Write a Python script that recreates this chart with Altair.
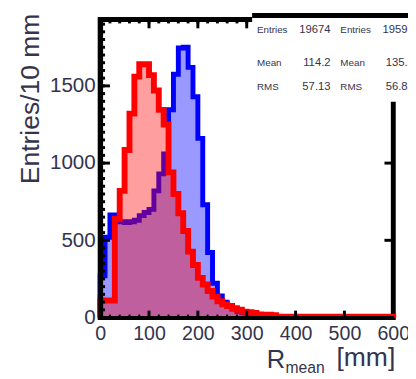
import altair as alt
import pandas as pd

# ---------------- data (counts per 10 mm bin, bins start at 0,10,...,590) ----------------
bin_starts = list(range(0, 600, 10))

red_counts = [110, 110, 110, 640, 820, 1085, 1320, 1560, 1640, 1640,
              1570, 1470, 1345, 1250, 940, 800, 675, 560, 427, 340,
              257, 214, 172, 135, 105, 85, 75, 60, 50, 38,
              34, 30, 20, 19, 18, 15, 5, 5, 5, 5,
              5, 5, 5, 5, 5, 5, 5, 5, 5, 5,
              5, 5, 5, 5, 5, 5, 5, 5, 5, 5]

blue_counts = [270, 520, 665, 640, 620, 615, 620, 630, 660, 680,
               700, 820, 930, 1060, 1345, 1575, 1745, 1750, 1620, 1430,
               1160, 730, 421, 222, 140, 100, 75, 55, 40, 30,
               20, 15, 12, 10, 8, 6, 5, 4, 3, 3,
               2, 2, 2, 1, 1, 1, 1, 1, 1, 1,
               1, 1, 1, 1, 1, 1, 1, 1, 1, 0]

x_tick_values = [0, 100, 200, 300, 400, 500, 600]
y_tick_values = [0, 500, 1000, 1500]
x_minor_ticks = list(range(0, 601, 20))
y_minor_ticks = list(range(0, 1901, 50))
right_major_ticks = [500, 1000, 1500]
bottom_major_ticks = [100, 200, 300, 400, 500]

stats_labels = ["Entries", "Mean", "RMS"]
stats_red = ["19674", "114.2", "57.13"]
stats_blue = ["19597", "135.5", "56.82"]

X_MAX = 600
Y_MAX = 1930

FONT = "Liberation Sans"
TXT = "#34344e"


def step_frame(counts):
    xs = [0] + bin_starts + [X_MAX, X_MAX]
    ys = [0] + counts + [counts[-1], 0]
    return pd.DataFrame({"x": xs, "v": ys, "i": list(range(len(xs)))})


def area_frame(counts):
    xs = bin_starts + [X_MAX]
    ys = counts + [counts[-1]]
    return pd.DataFrame({"x": xs, "v": ys})


xs_scale = alt.Scale(domain=[0, X_MAX], nice=False, zero=False)
ys_scale = alt.Scale(domain=[0, Y_MAX], nice=False)

x_axis = alt.Axis(values=x_tick_values, format="d", labelFont=FONT, labelFontSize=20,
                  labelColor=TXT, labelPadding=6, ticks=False, grid=False,
                  domain=True, domainColor="black", domainWidth=4, labelFlush=False,
                  labelOverlap=False, title=None, zindex=1)
y_axis = alt.Axis(values=y_tick_values, format="d", labelFont=FONT, labelFontSize=21,
                  labelColor=TXT, labelPadding=5, ticks=False, grid=False,
                  domain=True, domainColor="black", domainWidth=5, labelFlush=False,
                  labelOverlap=False, title=None, zindex=1)


def X(field):
    return alt.X(field, scale=xs_scale, axis=x_axis)


def Y(field):
    return alt.Y(field, scale=ys_scale, axis=y_axis)


blue_fill = alt.Chart(area_frame(blue_counts)).mark_area(
    interpolate="step-after", color="#9999ff", opacity=1
).encode(x=X("x:Q"), y=Y("v:Q"))

blue_line = alt.Chart(step_frame(blue_counts)).mark_line(
    interpolate="step-after", color="#0000ff", strokeWidth=5, strokeJoin="miter"
).encode(x=X("x:Q"), y=Y("v:Q"), order="i:Q")

red_fill = alt.Chart(area_frame(red_counts)).mark_area(
    interpolate="step-after", color="#ff0000", opacity=0.38
).encode(x=X("x:Q"), y=Y("v:Q"))

bottom_minor = alt.Chart(pd.DataFrame({"x": x_minor_ticks})).mark_rule(
    color="black", strokeWidth=2
).encode(x=X("x:Q"), y=alt.value(301), y2=alt.value(304))

red_line = alt.Chart(step_frame(red_counts)).mark_line(
    interpolate="step-after", color="#ff0000", strokeWidth=6, strokeJoin="miter"
).encode(x=X("x:Q"), y=Y("v:Q"), order="i:Q")

left_minor = alt.Chart(pd.DataFrame({"v": y_minor_ticks})).mark_rule(
    color="black", strokeWidth=3
).encode(y=Y("v:Q"), x=alt.value(0), x2=alt.value(5))
left_major = alt.Chart(pd.DataFrame({"v": y_tick_values})).mark_rule(
    color="black", strokeWidth=3
).encode(y=Y("v:Q"), x=alt.value(0), x2=alt.value(10))
top_minor = alt.Chart(pd.DataFrame({"x": x_minor_ticks})).mark_rule(
    color="black", strokeWidth=3
).encode(x=X("x:Q"), y=alt.value(0), y2=alt.value(4))
top_major = alt.Chart(pd.DataFrame({"x": x_tick_values})).mark_rule(
    color="black", strokeWidth=3
).encode(x=X("x:Q"), y=alt.value(0), y2=alt.value(9))
right_major = alt.Chart(pd.DataFrame({"v": right_major_ticks})).mark_rule(
    color="black", strokeWidth=3
).encode(y=Y("v:Q"), x=alt.value(290), x2=alt.value(299))
bottom_major = alt.Chart(pd.DataFrame({"x": bottom_major_ticks})).mark_rule(
    color="black", strokeWidth=3
).encode(x=X("x:Q"), y=alt.value(297), y2=alt.value(304))

one = pd.DataFrame({"a": [0]})

stats_box = alt.Chart(one).mark_rect(color="white").encode(
    x=alt.value(155), x2=alt.value(330), y=alt.value(-8), y2=alt.value(84)
)
stats_top = alt.Chart(one).mark_rule(color="black", strokeWidth=5).encode(
    x=alt.value(155), x2=alt.value(330), y=alt.value(-4)
)


def txt(s, x, y, size, align="left", angle=0, baseline="alphabetic"):
    kw = dict(align=align, baseline=baseline, font=FONT, fontSize=size, color=TXT)
    if angle:
        kw["angle"] = angle
    return alt.Chart(one).mark_text(**kw).encode(
        x=alt.value(x), y=alt.value(y), text=alt.value(s)
    )


row_y = [14, 47, 72]
stats_layers = []
for k in range(3):
    stats_layers.append(txt(stats_labels[k], 160, row_y[k], 10))
    stats_layers.append(txt(stats_red[k], 235, row_y[k], 11.5, align="right"))
    stats_layers.append(txt(stats_labels[k], 245, row_y[k], 10))
    stats_layers.append(txt(stats_blue[k], 320, row_y[k], 11.5, align="right"))

y_title = txt("Entries/10 mm", -70, -6, 27, align="right", angle=270, baseline="middle")
x_title_r = txt("R", 170, 355, 26)
x_title_sub = txt("mean", 189, 361, 16)
x_title_unit = txt("[mm]", 301, 353, 27, align="right")

chart = alt.layer(
    blue_fill, blue_line, red_fill, bottom_minor, red_line,
    left_minor, left_major, top_minor, top_major, right_major, bottom_major,
    stats_box, stats_top, *stats_layers,
    y_title, x_title_r, x_title_sub, x_title_unit,
).properties(
    width=299, height=304,
    padding={"left": 94, "top": 8, "right": 15, "bottom": 59},
    autosize=alt.AutoSizeParams(type="none"),
    background="white",
).configure_view(
    stroke="black", strokeWidth=5
)

chart.save("out.html", embed_options={"renderer": "svg", "actions": False})
